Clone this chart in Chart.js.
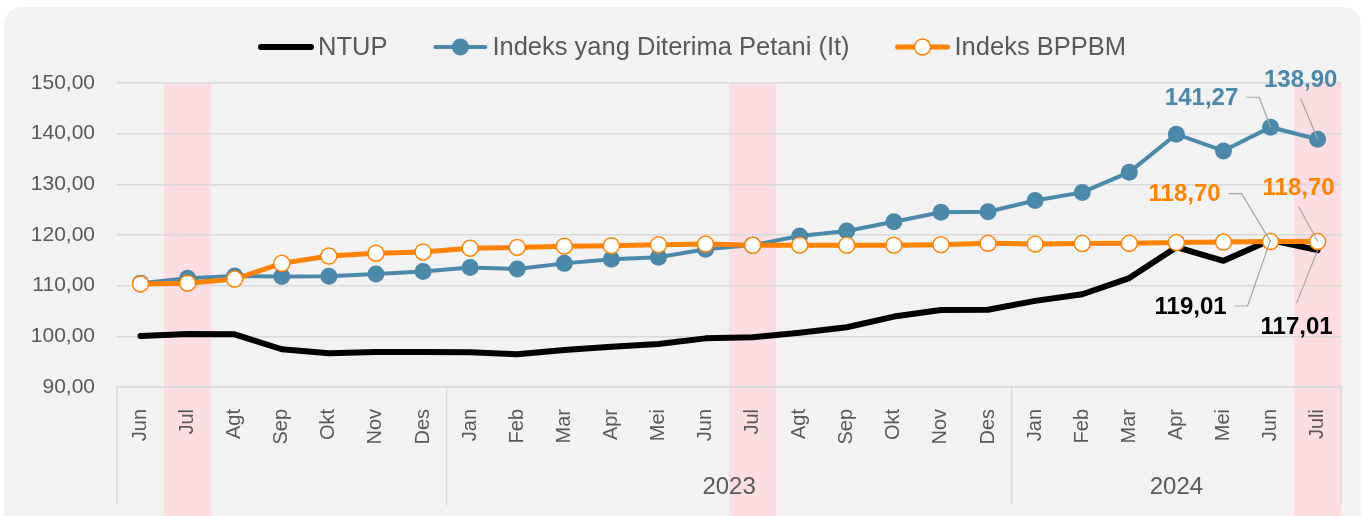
<!DOCTYPE html>
<html>
<head>
<meta charset="utf-8">
<script src="https://cdn.jsdelivr.net/npm/chart.js@4.4.1/dist/chart.umd.min.js"></script>
<style>
    html, body { margin: 0; padding: 0; background: #FFFFFF; }
    #card { position: absolute; left: 4px; top: 7px; width: 1357px; height: 540px; background: #F2F2F2; border-radius: 18px; }
    #wrap { position: absolute; left: 0; top: 0; width: 1364px; height: 516px; }
</style>
</head>
<body>
<div id="card"></div>
<div id="wrap"><canvas id="ntupChart"></canvas></div>
<script>
// ===== NTUP chart =====
var months = ['Jun', 'Jul', 'Agt', 'Sep', 'Okt', 'Nov', 'Des',
    'Jan', 'Feb', 'Mar', 'Apr', 'Mei', 'Jun', 'Jul', 'Agt', 'Sep', 'Okt', 'Nov', 'Des',
    'Jan', 'Feb', 'Mar', 'Apr', 'Mei', 'Jun', 'Juli'];
var yearNames = ['', '2023', '2024'];
var yearStarts = [0, 7, 19];
var highlightIdx = [1, 13, 25];

var ntup = [100.07, 100.45, 100.40, 97.45, 96.65, 96.90, 96.90, 96.85, 96.45, 97.30, 97.95, 98.50, 99.60,
    99.80, 100.70, 101.80, 103.90, 105.20, 105.25, 107.00, 108.30, 111.50, 117.60, 114.90, 119.01, 117.01];
var indeksIt = [110.50, 111.45, 111.90, 111.80, 111.85, 112.30, 112.80, 113.60, 113.30, 114.40, 115.20, 115.60, 117.20,
    118.00, 119.80, 120.80, 122.60, 124.50, 124.60, 126.80, 128.40, 132.40, 139.90, 136.60, 141.27, 138.90];
var indeksBppbm = [110.35, 110.50, 111.30, 114.40, 115.85, 116.40, 116.65, 117.40, 117.55, 117.80, 117.90, 118.10, 118.20,
    117.97, 118.00, 118.00, 118.00, 118.10, 118.35, 118.20, 118.30, 118.35, 118.50, 118.60, 118.70, 118.70];

var yMin = 90, yMax = 150, yStep = 10;

// label callouts: dataset, index, label offset from point
var callouts = [
    { ds: 1, i: 24, dx: -69, dy: -29, elbow: true },
    { ds: 1, i: 25, dx: -17, dy: -59, elbow: false },
    { ds: 2, i: 24, dx: -86, dy: -47, elbow: true },
    { ds: 2, i: 25, dx: -19, dy: -53, elbow: false },
    { ds: 0, i: 24, dx: -80, dy: 67, elbow: true },
    { ds: 0, i: 25, dx: -21, dy: 77, elbow: false }
];

var BLUE = '#4A89AA';
var ORANGE = '#FF8200';
var GRAY_TEXT = '#595959';
var GRID = '#D9D9D9';
var FONT = "'Liberation Sans', Arial, sans-serif";

function fmt(v) {
    return v.toFixed(2).replace('.', ',');
}

// pink highlight columns (behind everything)
var highlightPlugin = {
    id: 'highlight',
    beforeDraw: function(chart) {
        var ctx = chart.ctx, x = chart.scales.x, area = chart.chartArea;
        var w = (area.right - area.left) / months.length;
        ctx.save();
        ctx.fillStyle = '#FCDDE4';
        highlightIdx.forEach(function(idx) {
            var cx = x.getPixelForValue(idx);
            ctx.fillRect(cx - w / 2, area.top, w, chart.height - area.top);
        });
        ctx.restore();
    }
};

// year groups under the month ticks
var groupPlugin = {
    id: 'groups',
    afterDraw: function(chart) {
        var ctx = chart.ctx, x = chart.scales.x, area = chart.chartArea;
        var w = (area.right - area.left) / months.length;
        ctx.save();
        ctx.strokeStyle = GRID;
        ctx.lineWidth = 1.5;
        var bounds = yearStarts.concat([months.length]);
        bounds.forEach(function(b) {
            var px = b === months.length ? x.getPixelForValue(b - 1) + w / 2 : x.getPixelForValue(b) - w / 2;
            ctx.beginPath();
            ctx.moveTo(px, area.bottom);
            ctx.lineTo(px, 505);
            ctx.stroke();
        });
        ctx.fillStyle = GRAY_TEXT;
        ctx.font = '24px ' + FONT;
        ctx.textAlign = 'center';
        ctx.textBaseline = 'middle';
        yearNames.forEach(function(name, g) {
            var a = x.getPixelForValue(bounds[g]) - w / 2;
            var b = x.getPixelForValue(bounds[g + 1] - 1) + w / 2;
            ctx.fillText(name, (a + b) / 2, 487);
        });
        ctx.restore();
    }
};

// data labels with leader lines
var calloutPlugin = {
    id: 'callouts',
    afterDatasetsDraw: function(chart) {
        var ctx = chart.ctx;
        ctx.save();
        ctx.font = 'bold 24px ' + FONT;
        ctx.textAlign = 'center';
        ctx.textBaseline = 'middle';
        callouts.forEach(function(c) {
            var ds = chart.data.datasets[c.ds];
            var pt = chart.getDatasetMeta(c.ds).data[c.i];
            var text = fmt(ds.data[c.i]);
            var lx = pt.x + c.dx, ly = pt.y + c.dy;
            var tw = ctx.measureText(text).width;

            ctx.strokeStyle = '#A6A6A6';
            ctx.lineWidth = 1.2;
            ctx.beginPath();
            if (c.elbow) {
                var sx = lx + tw / 2 + 8;
                ctx.moveTo(sx, ly - 1);
                ctx.lineTo(sx + 13, ly - 1);
            } else {
                ctx.moveTo(lx, ly + (c.dy > 0 ? -24 : 18));
            }
            ctx.lineTo(pt.x, pt.y);
            ctx.stroke();

            ctx.fillStyle = ds.labelColor;
            ctx.fillText(text, lx, ly);
        });
        ctx.restore();
    }
};

// legend with line + marker samples
var legendPlugin = {
    id: 'lineLegend',
    afterDraw: function(chart) {
        var ctx = chart.ctx;
        var sample = 56, gapText = 4, gapItem = 45, cy = 47;
        ctx.save();
        ctx.font = '25.5px ' + FONT;
        var total = 0;
        chart.data.datasets.forEach(function(ds, k) {
            total += sample + gapText + ctx.measureText(ds.label).width + (k > 0 ? gapItem : 0);
        });
        var x = 692 - total / 2;
        chart.data.datasets.forEach(function(ds) {
            ctx.strokeStyle = ds.borderColor;
            ctx.lineWidth = ds.borderWidth;
            ctx.lineCap = 'round';
            ctx.beginPath();
            ctx.moveTo(x + 3, cy);
            ctx.lineTo(x + sample - 3, cy);
            ctx.stroke();
            if (ds.pointRadius > 0) {
                ctx.beginPath();
                ctx.arc(x + sample / 2, cy, ds.pointRadius, 0, Math.PI * 2);
                ctx.fillStyle = ds.pointBackgroundColor;
                ctx.fill();
                if (ds.pointBorderWidth) {
                    ctx.lineWidth = ds.pointBorderWidth;
                    ctx.strokeStyle = ds.pointBorderColor;
                    ctx.stroke();
                }
            }
            ctx.fillStyle = GRAY_TEXT;
            ctx.textAlign = 'left';
            ctx.textBaseline = 'middle';
            ctx.fillText(ds.label, x + sample + gapText, cy + 1);
            x += sample + gapText + ctx.measureText(ds.label).width + gapItem;
        });
        ctx.restore();
    }
};

var ctx = document.getElementById('ntupChart').getContext('2d');
new Chart(ctx, {
    type: 'line',
    data: {
        labels: months,
        datasets: [
            {
                label: 'NTUP',
                data: ntup,
                borderColor: '#000000',
                labelColor: '#000000',
                borderWidth: 6,
                pointRadius: 0,
                borderCapStyle: 'round',
                borderJoinStyle: 'round',
                order: 2
            },
            {
                label: 'Indeks yang Diterima Petani (It)',
                data: indeksIt,
                borderColor: BLUE,
                labelColor: BLUE,
                borderWidth: 4,
                pointRadius: 8.5,
                pointBackgroundColor: BLUE,
                pointBorderColor: BLUE,
                pointBorderWidth: 0,
                order: 1
            },
            {
                label: 'Indeks BPPBM',
                data: indeksBppbm,
                borderColor: ORANGE,
                labelColor: ORANGE,
                borderWidth: 5,
                pointRadius: 8,
                pointBackgroundColor: '#FFFFFF',
                pointBorderColor: ORANGE,
                pointBorderWidth: 1.5,
                order: 0
            }
        ]
    },
    options: {
        responsive: true,
        maintainAspectRatio: false,
        animation: false,
        layout: { padding: { top: 83, left: 0, right: 19, bottom: 0 } },
        plugins: {
            legend: { display: false },
            tooltip: { enabled: false }
        },
        scales: {
            x: {
                offset: true,
                grid: { display: false, drawTicks: false },
                border: { display: true, color: GRID, width: 1.5 },
                afterFit: function(scale) { scale.height = 129; },
                ticks: {
                    autoSkip: false,
                    minRotation: 90,
                    maxRotation: 90,
                    padding: 22,
                    color: GRAY_TEXT,
                    font: { size: 20, family: FONT }
                }
            },
            y: {
                min: yMin,
                max: yMax,
                grid: { color: GRID, lineWidth: 1.5, drawTicks: false },
                border: { display: false },
                afterFit: function(scale) { scale.width = 117; },
                ticks: {
                    stepSize: yStep,
                    padding: 22,
                    color: GRAY_TEXT,
                    font: { size: 21, family: FONT },
                    callback: function(value) { return fmt(value); }
                }
            }
        }
    },
    plugins: [highlightPlugin, groupPlugin, calloutPlugin, legendPlugin]
});
</script>
</body>
</html>
